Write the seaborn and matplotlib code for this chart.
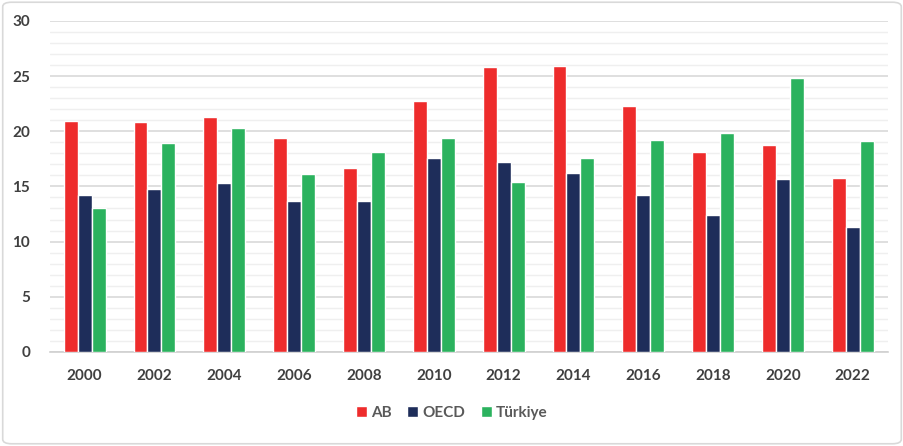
import matplotlib
matplotlib.use("Agg")
import matplotlib.pyplot as plt
import seaborn as sns
import pandas as pd
from matplotlib.patches import FancyBboxPatch

years = ["2000", "2002", "2004", "2006", "2008", "2010", "2012", "2014", "2016", "2018", "2020", "2022"]
ab = [20.9, 20.8, 21.3, 19.4, 16.7, 22.7, 25.8, 25.9, 22.3, 18.1, 18.8, 15.8]
oecd = [14.2, 14.8, 15.3, 13.7, 13.7, 17.6, 17.2, 16.2, 14.2, 12.4, 15.7, 11.3]
turkiye = [13.0, 18.9, 20.3, 16.1, 18.1, 19.4, 15.4, 17.6, 19.2, 19.8, 24.8, 19.1]
series = ["AB", "OECD", "Türkiye"]
colors = ["#EE2C2C", "#1E2D5A", "#2BB25E"]

df = pd.DataFrame({
    "Yıl": years * 3,
    "Değer": ab + oecd + turkiye,
    "Seri": [series[0]] * len(years) + [series[1]] * len(years) + [series[2]] * len(years),
})

sns.set_style("white")
plt.rcParams["font.family"] = ["Lato", "DejaVu Sans"]

fig = plt.figure(figsize=(9.04, 4.46), dpi=100)
ax = fig.add_axes([0.055, 0.211, 0.927, 0.742])

sns.barplot(data=df, x="Yıl", y="Değer", hue="Seri", palette=colors,
            width=0.6, gap=0, ax=ax, saturation=1, errorbar=None, zorder=3)

ax.set_ylim(0, 30)
ax.set_yticks(range(0, 31, 5))
ax.set_yticks(range(0, 31, 1), minor=True)
ax.grid(axis="y", which="major", color="#D9D9D9", linewidth=1.2, zorder=0)
ax.grid(axis="y", which="minor", color="#EFEFEF", linewidth=1.0, zorder=0)
ax.set_axisbelow(True)
ax.set_xlim(-0.5, len(years) - 0.5)

for s in ["left", "right", "top"]:
    ax.spines[s].set_visible(False)
ax.spines["bottom"].set_color("#D0D0D0")
ax.spines["bottom"].set_linewidth(1.2)

ax.tick_params(axis="both", which="both", length=0)
ax.tick_params(axis="y", pad=14)
ax.tick_params(axis="x", pad=12)
for lab in ax.get_xticklabels() + ax.get_yticklabels():
    lab.set_fontsize(11)
    lab.set_fontweight("bold")
    lab.set_color("#404040")
ax.set_xlabel("")
ax.set_ylabel("")

handles, labels = ax.get_legend_handles_labels()
ax.legend_.remove()
leg = fig.legend(handles, labels, loc="center", bbox_to_anchor=(0.5, 0.075), ncol=3,
                 frameon=False, fontsize=11, handlelength=0.7, handleheight=0.7,
                 handletextpad=0.3, columnspacing=1.0)
for t in leg.get_texts():
    t.set_color("#595959")
    t.set_fontweight("bold")

border = FancyBboxPatch((0.003, 0.005), 0.994, 0.99, boxstyle="round,pad=0,rounding_size=0.01",
                        transform=fig.transFigure, fill=False, edgecolor="#D9D9D9", linewidth=1.2)
fig.patches.append(border)

fig.savefig("out.png", dpi=100)
